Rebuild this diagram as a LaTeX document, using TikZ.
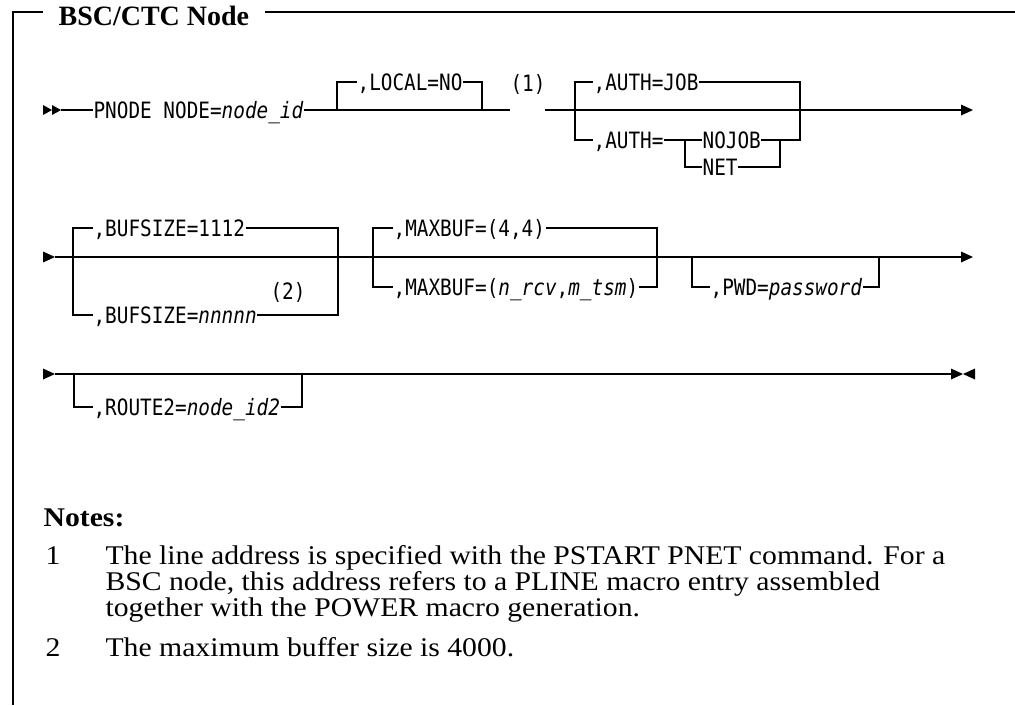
\documentclass[tikz,border=0pt]{standalone}
\usepackage{fontspec}
\setmainfont{Liberation Serif}
\newfontfamily\synfont{DejaVu Sans Mono}[FakeStretch=0.86]
\newfontfamily\notefont{Liberation Serif}[FakeStretch=1.1]
\usetikzlibrary{calc}
\tikzset{
  syn/.style={font=\synfont\fontsize{22.5}{24}\selectfont, inner sep=0pt,
    anchor=west, text height=16.4pt, text depth=0pt},
  rail/.style={line width=1.2pt, line join=miter},
  notetxt/.style={font=\notefont\fontsize{27}{26}\selectfont, inner sep=0pt,
    anchor=base west},
}
% filled arrowheads of the syntax rails
\newcommand\tipright[1]{\fill (#1) ++(0,-5.5) -- ++(12,5.5) -- ++(-12,5.5) -- cycle;}
\newcommand\tipleft[1]{\fill (#1) ++(0,-5.5) -- ++(-12,5.5) -- ++(12,5.5) -- cycle;}
\begin{document}
\begin{tikzpicture}[x=1pt,y=-1pt,rail]
\useasboundingbox (0,0) rectangle (1015,705);

% ---- frame and heading
\node[font=\bfseries\fontsize{28}{30}\selectfont, inner xsep=15pt, inner ysep=0pt,
  anchor=base west] (title) at (43,25) {BSC/CTC Node};
\coordinate (ftl) at (13,12);
\coordinate (ftr) at (1015,12);
\coordinate (fbl) at (13,705);
\draw (fbl) -- (ftl) -- (ftl -| title.west);
\draw (ftl -| title.east) -- (ftr);

% ---- first rail
\coordinate (r1a) at (43,110);
\coordinate (r1m) at (52,110);
\coordinate (r1s) at (61,110);
\fill (r1a) ++(0,-5) -- (r1m) -- ++(-9,5) -- cycle;
\fill (r1m) ++(0,-5) -- (r1s) -- ++(-9,5) -- cycle;
\node[syn] (pnode) at (93,110) {PNODE NODE=\textit{node\_id}};
\draw (r1s) -- (pnode.west);
\coordinate (r1g) at (510,110);
\draw (pnode.east) -- (r1g);
\coordinate (locL) at (337,110);
\coordinate (locR) at (482,110);
\node[syn] (local) at (357,82) {,LOCAL=NO};
\draw (locL) |- (local.west);
\draw (local.east) -| (locR);
\node[syn, anchor=center] (fn1) at (528,83) {(1)};
\coordinate (r1b) at (545,110);
\coordinate (r1e) at (961,110);
\draw (r1b) -- (r1e);
\tipright{r1e}
\coordinate (authL) at (575,110);
\coordinate (authR) at (800,110);
\node[syn] (ajob) at (593,82) {,AUTH=JOB};
\node[syn] (aeq) at (593,140) {,AUTH=};
\node[syn] (nojob) at (702,140) {NOJOB};
\node[syn] (net) at (702,167) {NET};
\coordinate (inL) at (685,140);
\coordinate (inR) at (780,140);
\draw (ajob.west) -| (authL) |- (aeq.west);
\draw (ajob.east) -| (authR) |- (inR);
\draw (aeq.east) -- (inL) -- (nojob.west);
\draw (inL) |- (net.west);
\draw (nojob.east) -- (inR);
\draw (net.east) -| (inR);

% ---- second rail
\coordinate (r2a) at (43,257);
\coordinate (r2s) at (55,257);
\coordinate (r2e) at (961,257);
\fill (r2a) ++(0,-5.5) -- (r2s) -- ++(-12,5.5) -- cycle;
\draw (r2s) -- (r2e);
\tipright{r2e}
\coordinate (bufL) at (73,257);
\coordinate (bufR) at (338,257);
\node[syn] (buf1) at (93,228) {,BUFSIZE=1112};
\node[syn] (buf2) at (93,315) {,BUFSIZE=\textit{nnnnn}};
\node[syn, anchor=center] (fn2) at (288,291) {(2)};
\draw (buf1.west) -| (bufL) |- (buf2.west);
\draw (buf1.east) -| (bufR) |- (buf2.east);
\coordinate (mxL) at (373,257);
\coordinate (mxR) at (657,257);
\node[syn] (mx1) at (393,228) {,MAXBUF=(4,4)};
\node[syn] (mx2) at (393,287) {,MAXBUF=(\textit{n\_rcv},\textit{m\_tsm})};
\draw (mx1.west) -| (mxL) |- (mx2.west);
\draw (mx1.east) -| (mxR) |- (mx2.east);
\coordinate (pwL) at (692,257);
\coordinate (pwR) at (879,257);
\node[syn] (pwd) at (710,287) {,PWD=\textit{password}};
\draw (pwL) |- (pwd.west);
\draw (pwd.east) -| (pwR);

% ---- third rail
\coordinate (r3a) at (43,374);
\coordinate (r3s) at (55,374);
\coordinate (r3e) at (951,374);
\coordinate (r3x) at (975,374);
\fill (r3a) ++(0,-5.5) -- (r3s) -- ++(-12,5.5) -- cycle;
\draw (r3s) -- (r3e);
\tipright{r3e}
\tipleft{r3x}
\coordinate (rtL) at (74,374);
\coordinate (rtR) at (302,374);
\node[syn] (route) at (93,407) {,ROUTE2=\textit{node\_id2}};
\draw (rtL) |- (route.west);
\draw (route.east) -| (rtR);

% ---- notes
\node[notetxt, font=\notefont\bfseries\fontsize{27}{26}\selectfont] (notes) at (43,526) {Notes:};
\node[notetxt] (n1num) at (45,564) {1};
\node[notetxt] (n1a) at (105,564) {The line address is specified with the PSTART PNET command. For a};
\node[notetxt] (n1b) at (105,590) {BSC node, this address refers to a PLINE macro entry assembled};
\node[notetxt] (n1c) at (105,616) {together with the POWER macro generation.};
\node[notetxt] (n2num) at (45,656) {2};
\node[notetxt] (n2txt) at (105,656) {The maximum buffer size is 4000.};
\end{tikzpicture}
\end{document}
